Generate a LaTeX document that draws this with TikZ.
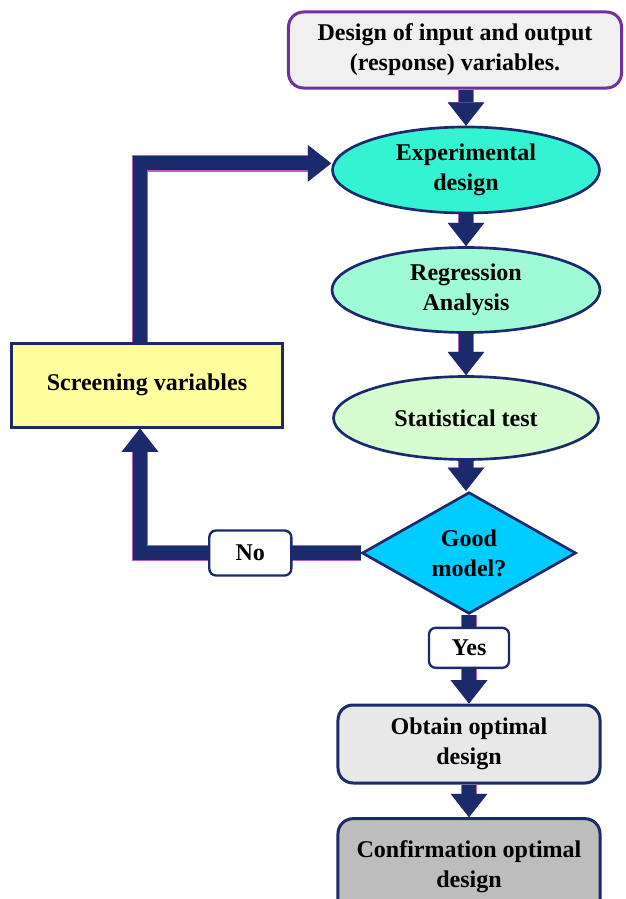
\documentclass[tikz,border=0pt]{standalone}
\usepackage{fontspec}
\setmainfont{Liberation Serif}
\usetikzlibrary{arrows.meta,shapes.geometric,positioning}
\definecolor{navy}{HTML}{1B2A6B}
\definecolor{rim}{HTML}{B85CC0}
\definecolor{violetrim}{HTML}{7030A0}
\definecolor{expfill}{HTML}{33F3D3}
\definecolor{regfill}{HTML}{9EFBD5}
\definecolor{statfill}{HTML}{D6FCCF}
\definecolor{decfill}{HTML}{00CCFF}
\definecolor{scrfill}{HTML}{FFFF9E}

\begin{document}
\begin{tikzpicture}[x=0.03cm,y=-0.03cm,
    every node/.style={font=\fontsize{20.5}{25.5}\selectfont\bfseries,align=center,inner sep=0pt},
    stepbox/.style={draw=navy,line width=0.09cm,rounded corners=0.45cm},
    oval/.style={ellipse,draw=navy,line width=0.08cm},
    tag/.style={draw=navy,line width=0.07cm,rounded corners=0.2cm,fill=white},
    flow/.style={draw=navy,line width=0.42cm,line join=miter,
        -{Triangle[width=1.1cm,length=0.7cm,line width=0pt]},
        preaction={draw=rim,line width=0.5cm,-{Triangle[width=1.1cm,length=0.7cm,line width=0pt]}}}]
    \useasboundingbox (0,0) rectangle (626,899);
    \node [stepbox,draw=violetrim,fill=black!6,minimum width=9.99cm,minimum height=2.28cm] (inout) at (455,50) {Design of input and output\\(response) variables.};
    \node [oval,fill=expfill,minimum width=8.01cm,minimum height=2.58cm] (exp) at (466,170) {Experimental\\design};
    \node [oval,fill=regfill,minimum width=8.04cm,minimum height=2.55cm] (reg) at (466,290) {Regression\\Analysis};
    \node [oval,fill=statfill,minimum width=7.95cm,minimum height=2.49cm] (stat) at (466,418) {Statistical test};
    \node [diamond,draw=navy,line width=0.08cm,fill=decfill,minimum width=6.42cm,minimum height=3.39cm] (good) at (469,553) {Good\\model?};
    \node [draw=navy,line width=0.09cm,fill=scrfill,minimum width=8.1cm,minimum height=2.52cm] (screen) at (147,385) {Screening variables};
    \node [stepbox,fill=black!9,minimum width=7.86cm,minimum height=2.34cm] (obtain) at (469,744) {Obtain optimal\\design};
    \node [stepbox,fill=black!26,minimum width=7.86cm,minimum height=2.9cm] (confirm) at (469,867) {Confirmation optimal\\design};
    \draw [flow] (inout.south -| exp.north) -- (exp);
    \draw [flow] (exp) -- (reg);
    \draw [flow] (reg) -- (stat);
    \draw [flow] (stat.south) -- (stat.south |- good.north);
    \draw [flow] (obtain) -- (obtain |- confirm.north);
    \draw [flow] (good) -- (obtain) node [tag,pos=0.37,minimum width=2.4cm,minimum height=1.2cm] (yes) {Yes};
    \draw [flow] (good.west) -| ([xshift=-0.21cm]screen.south) node [tag,pos=0.25,minimum width=2.46cm,minimum height=1.35cm] (no) {No};
    \draw [flow] ([xshift=-0.21cm]screen.north) |- ([yshift=0.2cm]exp.west);
\end{tikzpicture}
\end{document}
